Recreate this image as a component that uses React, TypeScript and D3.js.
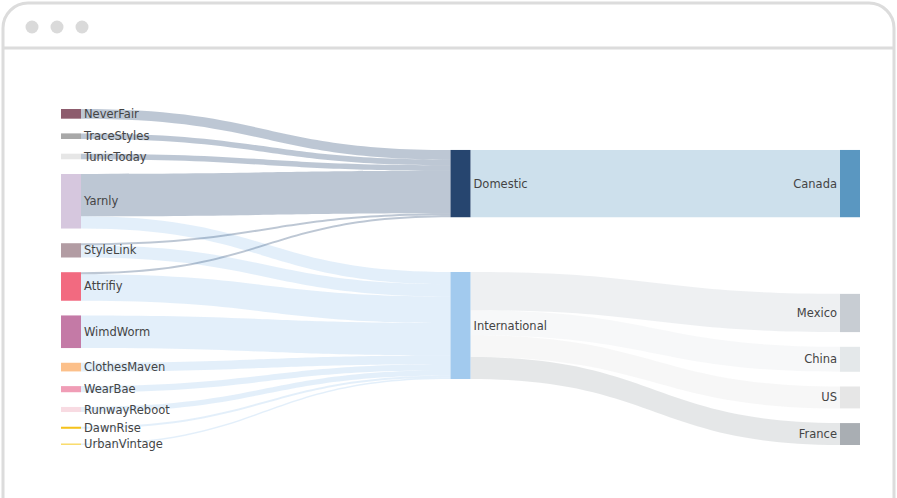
import React from 'react';
import * as d3 from 'd3';

// ---------- data ----------
const sourceNames = ['NeverFair', 'TraceStyles', 'TunicToday', 'Yarnly', 'StyleLink', 'Attrifiy', 'WimdWorm', 'ClothesMaven', 'WearBae', 'RunwayReboot', 'DawnRise', 'UrbanVintage'];
const channelNames = ['Domestic', 'International'];
const countryNames = ['Canada', 'Mexico', 'China', 'US', 'France'];

// flows from each brand into each channel
const toDomestic = [95, 55, 55, 415, 20, 20, 0, 0, 0, 0, 0, 0];
const toInternational = [0, 0, 0, 120, 120, 260, 320, 85, 60, 50, 20, 15];
// flows from each channel into each country
const domesticToCountry = [660, 0, 0, 0, 0];
const internationalToCountry = [0, 375, 245, 215, 215];

const sourceColors = ['#8d5c6d', '#a8a8a8', '#e6e6e6', '#d6c7de', '#b29ca3', '#f26a80', '#c47aa6', '#fcc08a', '#f09db6', '#f8dbe2', '#f5c21c', '#f9dc6e'];
const channelColors = ['#26456f', '#a2caee'];
const countryColors = ['#5a97c1', '#c8cdd3', '#e4e8ea', '#e6e6e6', '#a9aeb3'];

// ---------- layout constants ----------
const W = 897;
const H = 498;
const X0 = 61;
const X1 = 860;
const Y0 = 109;
const Y1 = 445;
const NODE_W = 20;
const PAD = 14.7;
const ITER = 50;

type SNode = {
  name: string; color: string; col: number; value: number;
  x0: number; x1: number; y0: number; y1: number;
  sourceLinks: SLink[]; targetLinks: SLink[];
};
type SLink = { source: SNode; target: SNode; value: number; width: number; y0: number; y1: number };

function buildSankey() {
  const mk = (name: string, color: string, col: number): SNode => ({
    name, color, col, value: 0, x0: 0, x1: 0, y0: 0, y1: 0, sourceLinks: [], targetLinks: [],
  });
  const left = sourceNames.map((n, i) => mk(n, sourceColors[i], 0));
  const mid = channelNames.map((n, i) => mk(n, channelColors[i], 1));
  const right = countryNames.map((n, i) => mk(n, countryColors[i], 2));
  const nodes = [...left, ...mid, ...right];
  const links: SLink[] = [];
  const add = (s: SNode, t: SNode, v: number) => {
    if (!(v > 0)) return;
    const l: SLink = { source: s, target: t, value: v, width: 0, y0: 0, y1: 0 };
    s.sourceLinks.push(l);
    t.targetLinks.push(l);
    links.push(l);
  };
  sourceNames.forEach((_, i) => {
    add(left[i], mid[0], toDomestic[i]);
    add(left[i], mid[1], toInternational[i]);
  });
  countryNames.forEach((_, j) => {
    add(mid[0], right[j], domesticToCountry[j]);
    add(mid[1], right[j], internationalToCountry[j]);
  });
  nodes.forEach((n) => {
    n.value = Math.max(d3.sum(n.sourceLinks, (l) => l.value), d3.sum(n.targetLinks, (l) => l.value));
  });

  const columns = [left, mid, right];
  const xCol = d3.scaleLinear().domain([0, 2]).range([X0, X1 - NODE_W]);
  nodes.forEach((n) => {
    n.x0 = xCol(n.col);
    n.x1 = n.x0 + NODE_W;
  });

  const center = (n: SNode) => (n.y0 + n.y1) / 2;
  const ky = d3.min(columns, (c) => (Y1 - Y0 - (c.length - 1) * PAD) / d3.sum(c, (n) => n.value)) as number;
  columns.forEach((c) => c.forEach((n, i) => { n.y0 = i; n.y1 = i + n.value * ky; }));
  links.forEach((l) => { l.width = l.value * ky; });

  const resolve = () => {
    columns.forEach((c) => {
      c.sort((a, b) => a.y0 - b.y0);
      let y = Y0;
      let node = c[0];
      for (let i = 0; i < c.length; i++) {
        node = c[i];
        const dy = y - node.y0;
        if (dy > 0) { node.y0 += dy; node.y1 += dy; }
        y = node.y1 + PAD;
      }
      let dy = y - PAD - Y1;
      if (dy > 0) {
        node.y0 -= dy; node.y1 -= dy;
        y = node.y0;
        for (let i = c.length - 2; i >= 0; i--) {
          node = c[i];
          dy = node.y1 + PAD - y;
          if (dy > 0) { node.y0 -= dy; node.y1 -= dy; }
          y = node.y0;
        }
      }
    });
  };
  const relaxLR = (alpha: number) => {
    columns.forEach((c) => c.forEach((n) => {
      if (n.targetLinks.length) {
        const dy = (d3.sum(n.targetLinks, (l) => center(l.source) * l.value) / d3.sum(n.targetLinks, (l) => l.value) - center(n)) * alpha;
        n.y0 += dy; n.y1 += dy;
      }
    }));
  };
  const relaxRL = (alpha: number) => {
    columns.slice().reverse().forEach((c) => c.forEach((n) => {
      if (n.sourceLinks.length) {
        const dy = (d3.sum(n.sourceLinks, (l) => center(l.target) * l.value) / d3.sum(n.sourceLinks, (l) => l.value) - center(n)) * alpha;
        n.y0 += dy; n.y1 += dy;
      }
    }));
  };
  resolve();
  let alpha = 1;
  for (let k = ITER; k > 0; --k) {
    alpha *= 0.99;
    relaxRL(alpha);
    resolve();
    relaxLR(alpha);
    resolve();
  }
  nodes.forEach((n) => {
    n.sourceLinks.sort((a, b) => a.target.y0 - b.target.y0);
    n.targetLinks.sort((a, b) => a.source.y0 - b.source.y0);
  });
  nodes.forEach((n) => {
    let ya = n.y0;
    let yb = n.y0;
    n.sourceLinks.forEach((l) => { l.y0 = ya + l.width / 2; ya += l.width; });
    n.targetLinks.forEach((l) => { l.y1 = yb + l.width / 2; yb += l.width; });
  });
  return { nodes, links };
}

function linkPath(l: SLink) {
  const xa = l.source.x1;
  const xb = l.target.x0;
  const xi = d3.interpolateNumber(xa, xb);
  const c0 = xi(0.5);
  const c1 = xi(0.5);
  const p = d3.path();
  p.moveTo(xa, l.y0 - l.width / 2);
  p.bezierCurveTo(c0, l.y0 - l.width / 2, c1, l.y1 - l.width / 2, xb, l.y1 - l.width / 2);
  p.lineTo(xb, l.y1 + l.width / 2);
  p.bezierCurveTo(c1, l.y1 + l.width / 2, c0, l.y0 + l.width / 2, xa, l.y0 + l.width / 2);
  p.closePath();
  return p.toString();
}

export default function App() {
  const { nodes, links } = buildSankey();
  const frame = 'M3,498 V28 A25,25 0 0 1 28,3 H869 A25,25 0 0 1 894,28 V498';
  return (
    <svg width={W} height={H} style={{ position: 'absolute', left: 0, top: 0, display: 'block' }}
      fontFamily="'DejaVu Sans', Verdana, sans-serif">
      <rect x={0} y={0} width={W} height={H} fill="#ffffff" />
      <path d={frame} fill="#ffffff" stroke="#dcdcdc" strokeWidth={3} />
      <line x1={3} x2={894} y1={48} y2={48} stroke="#dcdcdc" strokeWidth={3} />
      {[32, 57, 82].map((cx) => (
        <circle key={cx} cx={cx} cy={27} r={6.5} fill="#dadada" />
      ))}
      <g>
        {links.map((l, i) => (
          <path key={i} d={linkPath(l)} fill={l.target.color} fillOpacity={0.3} />
        ))}
      </g>
      <g>
        {nodes.map((n) => (
          <rect key={n.name} x={n.x0} y={n.y0} width={n.x1 - n.x0} height={Math.max(1, n.y1 - n.y0)} fill={n.color} />
        ))}
      </g>
      <g fontSize={11.5} fill="#444">
        {nodes.map((n) => {
          const rightSide = n.col < 2;
          return (
            <text key={n.name} x={rightSide ? n.x1 + 3 : n.x0 - 3} y={(n.y0 + n.y1) / 2} dy="0.35em"
              textAnchor={rightSide ? 'start' : 'end'}>
              {n.name}
            </text>
          );
        })}
      </g>
    </svg>
  );
}
